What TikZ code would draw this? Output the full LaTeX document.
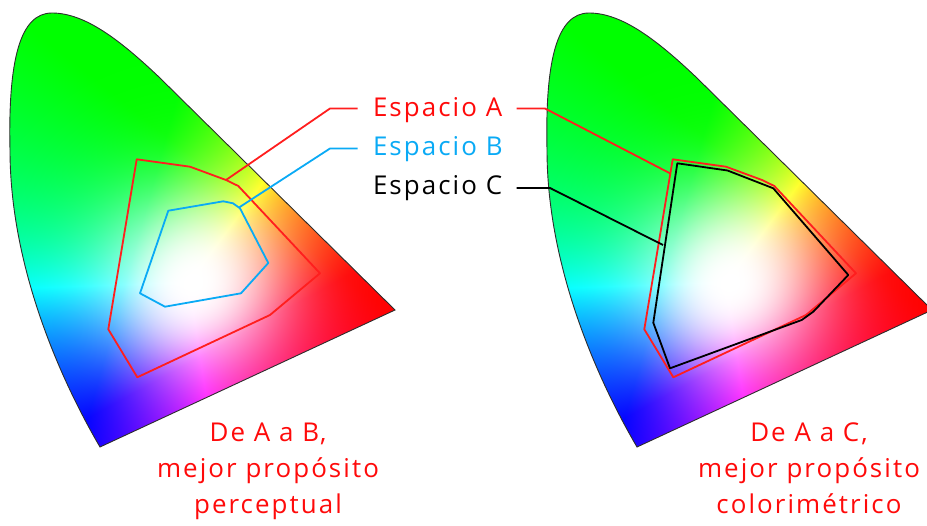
\documentclass[tikz,border=0pt]{standalone}
\usepackage{fontspec}
\setmainfont{Open Sans}[LetterSpace=8]
\definecolor{ared}{RGB}{255,30,30}
\definecolor{txtred}{RGB}{255,10,10}
\definecolor{bblue}{RGB}{10,170,245}
\definecolor{outl}{RGB}{45,45,45}
\pgfdeclarefunctionalshading{cie}{\pgfpointorigin}{\pgfpoint{420bp}{450bp}}{}{
1 index 195 sub dup mul 1 index 177 sub dup mul add -0.000123 mul 2.71828 exch exp
2 index 0.0071264 mul 2 index -0.0019828 mul add -0.539622 add
3 index -0.0030811 mul 3 index 0.0056030 mul add 0.034779 add
4 index -0.0027670 mul 4 index -0.0034907 mul add 1.592889 add
6 -2 roll pop pop
dup 0 lt {pop 0} if 3 1 roll
dup 0 lt {pop 0} if 3 1 roll
dup 0 lt {pop 0} if 3 1 roll
3 copy 2 copy lt {exch} if pop 2 copy lt {exch} if pop 0.00001 add
4 1 roll
3 index div 1 exch sub 1 5 index sub mul 1 exch sub 3 1 roll
3 index div 1 exch sub 1 5 index sub mul 1 exch sub 3 1 roll
3 index div 1 exch sub 1 5 index sub mul 1 exch sub 3 1 roll
5 -2 roll pop pop
}
\def\horseshoe{(100,447) .. controls (55,370) and (10,260) .. (10,150) .. controls (8,60) and (20,13) .. (52,13) .. controls (85,13) and (120,40) .. (160,78) -- (395,310) -- cycle}
\tikzset{
  gamut/.style={line width=1.8bp, line join=round},
  lbl/.style={font=\fontsize{26}{30}\selectfont, inner sep=0pt, outer sep=0pt},
  shade/.style={inner sep=0pt, outer sep=0pt, anchor=south west}
}
\begin{document}
\begin{tikzpicture}[x=1bp, y=-1bp]
\useasboundingbox (0,0) rectangle (927,526);
% left diagram
\begin{scope}
  \clip \horseshoe;
  \node[shade] (shL) at (0,460) {\pgfuseshading{cie}};
\end{scope}
\draw[outl, line width=0.9bp] \horseshoe;
% right diagram
\begin{scope}[xshift=537bp]
  \begin{scope}
    \clip \horseshoe;
    \node[shade] (shR) at (0,460) {\pgfuseshading{cie}};
  \end{scope}
  \draw[outl, line width=0.9bp] \horseshoe;
\end{scope}

% left polygons
\draw[ared, gamut] (136.7,159.3) -- (190,166.7) -- (226,180) -- (238.3,186) -- (320,273.3) -- (270,315) -- (137.3,377.3) -- (108.3,329.3) -- cycle;
\draw[bblue, gamut] (168.3,210.7) -- (223.3,201.3) -- (233,203.3) -- (240,208.3) -- (268.3,263) -- (241,293.3) -- (165,306.7) -- (140,293.3) -- cycle;
% right polygons
\draw[ared, gamut] (672.7,159.3) -- (726,166.7) -- (762,180) -- (774.3,186) -- (856,273.3) -- (806,315) -- (673.3,377.3) -- (644.3,329.3) -- cycle;
\draw[black, gamut] (677.3,163.3) -- (727.5,170.5) -- (773.3,188.3) -- (848.3,275) -- (813.3,311.7) -- (801.7,320) -- (670,368.3) -- (653.3,322.7) -- cycle;

% labels
\node[lbl, text=txtred, anchor=base west] (la) at (373,116.7) {Espacio A};
\node[lbl, text=bblue, anchor=base west] (lb) at (373,156) {Espacio B};
\node[lbl, text=black, anchor=base west] (lc) at (373,195) {Espacio C};

% connector points
\coordinate (aL) at (226,180);
\coordinate (aLk) at (330,108.5);
\coordinate (aLe) at (357.5,108.5);
\coordinate (bL) at (239,207.5);
\coordinate (bLk) at (330,148.5);
\coordinate (bLe) at (357.5,148.5);
\coordinate (aRs) at (516.5,108.5);
\coordinate (aRk) at (545,108.5);
\coordinate (aR) at (670,173.3);
\coordinate (cRs) at (516.5,188);
\coordinate (cRk) at (550,188);
\coordinate (cR) at (663,245);

\draw[ared, gamut] (aL) -- (aLk) -- (aLe);
\draw[bblue, gamut] (bL) -- (bLk) -- (bLe);
\draw[ared, gamut] (aRs) -- (aRk) -- (aR);
\draw[black, gamut] (cRs) -- (cRk) -- (cR);

% bottom captions
\node[lbl, text=txtred, anchor=base] (t1a) at (268,441.5) {De A a B,};
\node[lbl, text=txtred, anchor=base] (t1b) at (268,477.5) {mejor propósito};
\node[lbl, text=txtred, anchor=base] (t1c) at (268,513.5) {perceptual};
\node[lbl, text=txtred, anchor=base] (t2a) at (809,441.5) {De A a C,};
\node[lbl, text=txtred, anchor=base] (t2b) at (809,477.5) {mejor propósito};
\node[lbl, text=txtred, anchor=base] (t2c) at (809,513.5) {colorimétrico};
\end{tikzpicture}
\end{document}
